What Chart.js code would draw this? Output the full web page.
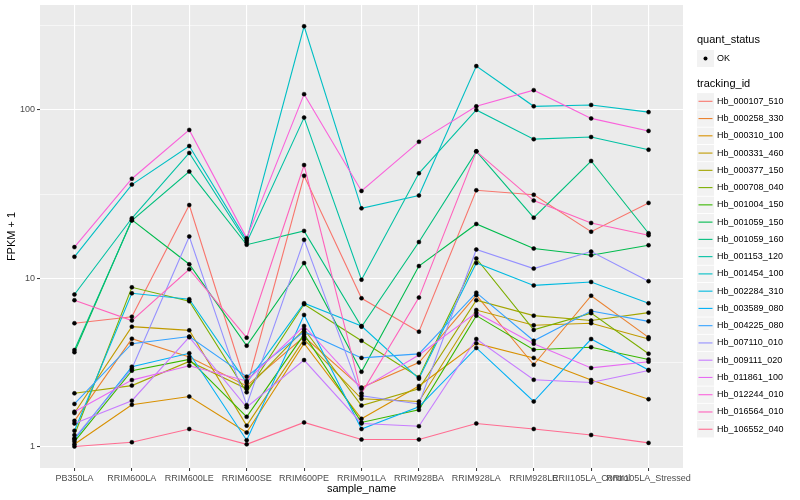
<!DOCTYPE html>
<html>
<head>
<meta charset="utf-8">
<script src="https://cdn.jsdelivr.net/npm/chart.js@4.4.0/dist/chart.umd.min.js"></script>
<style>
  html, body { margin: 0; padding: 0; background: #fff; }
  #wrap { width: 800px; height: 500px; }
</style>
</head>
<body>
<div id="wrap"><canvas id="fpkmChart" width="800" height="500"></canvas></div>
<script>
// sample names on the x axis
const categories = ['PB350LA', 'RRIM600LA', 'RRIM600LE', 'RRIM600SE', 'RRIM600PE', 'RRIM901LA',
  'RRIM928BA', 'RRIM928LA', 'RRIM928LE', 'RRII105LA_Control', 'RRII105LA_Stressed'];

// FPKM + 1 per tracking_id
const hb000107_510 = [5.4, 5.9, 27.2, 2.25, 40.6, 7.6, 4.81, 33.3, 31.3, 18.9, 28];
const hb000258_330 = [1.42, 4.37, 3.4, 2.29, 4.49, 2.24, 3.15, 7.93, 3.06, 7.87, 4.45];
const hb000310_100 = [1.03, 1.77, 1.98, 1.21, 4.1, 1.46, 2.29, 4.1, 3.36, 2.48, 1.91];
const hb000331_460 = [1.58, 5.15, 4.9, 1.33, 4.33, 1.92, 1.85, 6.47, 5.25, 5.4, 4.35];
const hb000377_150 = [2.07, 2.3, 3.2, 2.2, 4.97, 1.75, 2.2, 7.4, 5.99, 5.6, 6.24];
const hb000708_040 = [1.17, 8.83, 7.3, 2.1, 7.0, 4.25, 2.58, 13.1, 4.93, 6.2, 3.56];
const hb001004_150 = [1.07, 2.82, 3.29, 1.5, 4.64, 1.39, 1.65, 5.99, 3.76, 3.89, 3.29];
const hb001059_150 = [3.63, 22.2, 12.1, 3.97, 12.3, 2.78, 11.8, 21, 15, 13.7, 15.7];
const hb001059_160 = [3.74, 22, 43, 15.8, 19.1, 5.15, 16.4, 56.7, 22.9, 49.7, 18.5];
const hb001153_120 = [8.0, 22.7, 55.5, 16.3, 90, 9.8, 42, 100, 67, 69, 58];
const hb001454_100 = [13.4, 36, 61, 16.8, 314, 26, 31, 182, 105, 107, 97];
const hb002284_310 = [1.24, 8.13, 7.5, 2.39, 7.1, 5.2, 2.53, 12.3, 9.06, 9.5, 7.1];
const hb003589_080 = [1.1, 2.98, 3.58, 1.09, 6.05, 1.27, 1.72, 3.85, 1.85, 4.35, 2.85];
const hb004225_080 = [1.79, 4.08, 4.5, 2.6, 4.81, 3.36, 3.55, 8.2, 4.25, 6.38, 5.54];
const hb007110_010 = [1.12, 2.9, 17.7, 1.76, 16.9, 2.0, 1.79, 14.8, 11.4, 14.4, 9.6];
const hb009111_020 = [1.37, 1.87, 4.46, 1.71, 3.26, 1.37, 1.32, 4.35, 2.49, 2.4, 2.83];
const hb011861_100 = [1.61, 2.48, 3.02, 2.45, 5.2, 2.2, 3.5, 6.24, 4.08, 2.93, 3.19];
const hb012244_010 = [15.3, 39, 76, 17.3, 124, 33, 64.6, 105, 131, 89, 75];
const hb016564_010 = [7.4, 5.6, 11.3, 4.43, 47, 2.07, 7.67, 56.7, 28.9, 21.3, 18];
const hb106552_040 = [1.0, 1.06, 1.27, 1.03, 1.39, 1.10, 1.10, 1.37, 1.27, 1.17, 1.05];

const trackingIds = ['Hb_000107_510', 'Hb_000258_330', 'Hb_000310_100', 'Hb_000331_460', 'Hb_000377_150',
  'Hb_000708_040', 'Hb_001004_150', 'Hb_001059_150', 'Hb_001059_160', 'Hb_001153_120', 'Hb_001454_100',
  'Hb_002284_310', 'Hb_003589_080', 'Hb_004225_080', 'Hb_007110_010', 'Hb_009111_020', 'Hb_011861_100',
  'Hb_012244_010', 'Hb_016564_010', 'Hb_106552_040'];
const seriesValues = [hb000107_510, hb000258_330, hb000310_100, hb000331_460, hb000377_150, hb000708_040,
  hb001004_150, hb001059_150, hb001059_160, hb001153_120, hb001454_100, hb002284_310, hb003589_080,
  hb004225_080, hb007110_010, hb009111_020, hb011861_100, hb012244_010, hb016564_010, hb106552_040];
const colors = ['#F8766D', '#EA8331', '#D89000', '#C09B00', '#A3A500', '#7CAE00', '#39B600', '#00BB4E',
  '#00BF7D', '#00C1A3', '#00BFC4', '#00BAE0', '#00B0F6', '#35A2FF', '#9590FF', '#C77CFF', '#E76BF3',
  '#FA62DB', '#FF62BC', '#FF6C91'];

// y breaks: labelled majors and unlabelled minors
const yMajor = [1, 10, 100];
const yBreaks = [1, 3.1623, 10, 31.623, 100, 316.23];

const FONT = '"Liberation Sans", Arial, sans-serif';

const lineSets = seriesValues.map((vals, i) => ({
  label: trackingIds[i],
  data: vals.map((v, j) => ({ x: j, y: v })),
  borderColor: colors[i],
  backgroundColor: colors[i],
  borderWidth: 1.1,
  pointRadius: 0,
  tension: 0,
  fill: false,
  order: 20 - i
}));

const pointSet = {
  type: 'scatter',
  label: 'OK',
  data: seriesValues.flatMap(vals => vals.map((v, j) => ({ x: j, y: v }))),
  pointRadius: 2,
  pointBackgroundColor: '#000',
  pointBorderColor: '#000',
  pointBorderWidth: 0.5,
  order: 0
};

// no extra label padding, so the panel sits where the reference has it
function noPad(scale) {
  scale.paddingTop = 0;
  scale.paddingBottom = 0;
  scale.paddingLeft = 0;
  scale.paddingRight = 0;
}

const ggPlugin = {
  id: 'ggLook',
  beforeDraw(chart) {
    const { ctx, chartArea: a } = chart;
    ctx.save();
    ctx.fillStyle = '#fff';
    ctx.fillRect(0, 0, chart.width, chart.height);
    ctx.fillStyle = '#EBEBEB';
    ctx.fillRect(a.left, a.top, a.right - a.left, a.bottom - a.top);
    ctx.restore();
  },
  afterDraw(chart) {
    const { ctx, chartArea: a } = chart;
    ctx.save();
    // axis titles
    ctx.fillStyle = '#000';
    ctx.font = '11px ' + FONT;
    ctx.textAlign = 'center';
    ctx.textBaseline = 'middle';
    ctx.fillText('sample_name', (a.left + a.right) / 2, 489);
    ctx.save();
    ctx.translate(12, (a.top + a.bottom) / 2);
    ctx.rotate(-Math.PI / 2);
    ctx.fillText('FPKM + 1', 0, 0);
    ctx.restore();

    // legend
    const lx = 697;
    ctx.textAlign = 'left';
    ctx.font = '11px ' + FONT;
    ctx.fillText('quant_status', lx, 40);
    ctx.fillStyle = '#F2F2F2';
    ctx.fillRect(lx, 50, 17, 17);
    ctx.fillStyle = '#000';
    ctx.beginPath();
    ctx.arc(lx + 8.5, 58.5, 2, 0, Math.PI * 2);
    ctx.fill();
    ctx.font = '9px ' + FONT;
    ctx.fillText('OK', lx + 20, 58.5);

    ctx.font = '11px ' + FONT;
    ctx.fillText('tracking_id', lx, 84);
    const step = 17.26;
    trackingIds.forEach((id, i) => {
      const cy = 101.3 + i * step;
      ctx.fillStyle = '#F2F2F2';
      ctx.fillRect(lx, cy - 8.2, 17, 16.4);
      ctx.strokeStyle = colors[i];
      ctx.lineWidth = 1.1;
      ctx.beginPath();
      ctx.moveTo(lx + 1.5, cy);
      ctx.lineTo(lx + 15.5, cy);
      ctx.stroke();
      ctx.fillStyle = '#000';
      ctx.font = '9px ' + FONT;
      ctx.fillText(id, lx + 20, cy);
    });
    ctx.restore();
  }
};

const chart = new Chart(document.getElementById('fpkmChart').getContext('2d'), {
  type: 'line',
  data: { datasets: [pointSet, ...lineSets] },
  options: {
    responsive: false,
    animation: false,
    devicePixelRatio: 1,
    layout: { padding: { left: 0, top: 5, right: 117, bottom: 0 } },
    plugins: { legend: { display: false }, tooltip: { enabled: false } },
    scales: {
      x: {
        type: 'linear',
        bounds: 'data',
        min: -0.6,
        max: 10.6,
        afterBuildTicks: (scale) => { scale.ticks = categories.map((c, i) => ({ value: i })); },
        afterFit: (scale) => { scale.height = 32; noPad(scale); },
        border: { display: false },
        grid: { color: '#fff', lineWidth: 1.1, tickColor: '#333', tickLength: 3, tickWidth: 1 },
        ticks: {
          autoSkip: false, maxRotation: 0, minRotation: 0, padding: 2,
          color: '#4D4D4D', font: { family: FONT, size: 9 },
          callback: (v) => categories[v]
        }
      },
      y: {
        type: 'logarithmic',
        bounds: 'data',
        min: 0.745,
        max: 420,
        afterBuildTicks: (scale) => { scale.ticks = yBreaks.map(v => ({ value: v })); },
        afterFit: (scale) => { scale.width = 40; noPad(scale); },
        border: { display: false },
        grid: {
          color: '#fff',
          lineWidth: (c) => (c.tick && yMajor.includes(c.tick.value) ? 1.1 : 0.55),
          tickColor: (c) => (c.tick && yMajor.includes(c.tick.value) ? '#333' : 'rgba(0,0,0,0)'),
          tickLength: 3,
          tickWidth: 1
        },
        ticks: {
          padding: 2, color: '#4D4D4D', font: { family: FONT, size: 9 },
          callback: (v) => (yMajor.includes(v) ? String(v) : '')
        }
      }
    }
  },
  plugins: [ggPlugin]
});
</script>
</body>
</html>
